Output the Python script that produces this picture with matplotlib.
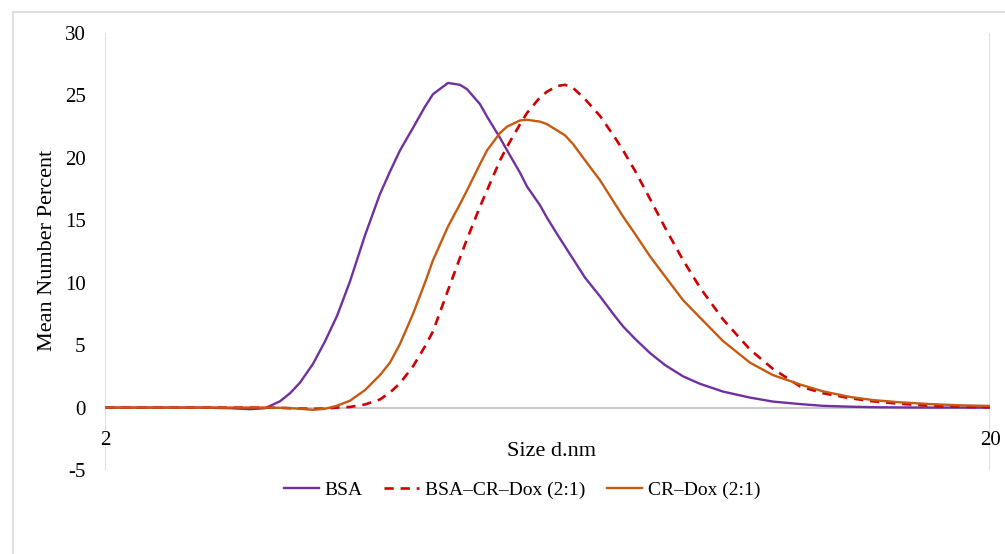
import numpy as np
import matplotlib
matplotlib.use("Agg")
import matplotlib.pyplot as plt
from matplotlib.lines import Line2D

plt.rcParams['font.family'] = ['Liberation Serif', 'DejaVu Serif']
plt.rcParams['axes.unicode_minus'] = False

# size bins (d.nm)
size_nm = [2.000, 2.248, 2.561, 2.769, 2.917, 3.033, 3.153, 3.237, 3.322, 3.436,
           3.545, 3.658, 3.783, 3.934, 4.090, 4.198, 4.309, 4.457, 4.598, 4.695,
           4.882, 5.037, 5.130, 5.306, 5.404, 5.590, 5.693, 5.889, 5.997, 6.203,
           6.317, 6.484, 6.620, 6.760, 6.974, 7.252, 7.541, 7.699, 7.944, 8.260,
           8.589, 9.000, 9.407, 9.986, 10.71, 11.37, 12.20, 12.95, 13.90, 14.75,
           15.83, 17.11, 18.50, 20.00]

bsa = [0, 0, 0, -0.05, -0.13, -0.05, 0.5, 1.15, 2.0, 3.5,
       5.3, 7.35, 10.1, 13.8, 17.1, 18.9, 20.6, 22.4, 24.1, 25.1,
       26.0, 25.85, 25.5, 24.3, 23.3, 21.6, 20.6, 18.8, 17.7, 16.2,
       15.2, 13.9, 12.9, 11.9, 10.4, 8.9, 7.3, 6.5, 5.5, 4.36,
       3.4, 2.5, 1.9, 1.28, 0.8, 0.48, 0.28, 0.14, 0.07, 0.03,
       0.01, 0, 0, 0]

bsa_cr_dox = [0, 0, 0, 0, 0, 0, -0.02, -0.05, -0.08, -0.1,
              -0.08, 0.0, 0.05, 0.25, 0.65, 1.2, 1.95, 3.3, 4.9, 6.1,
              9.4, 12.0, 13.5, 16.1, 17.4, 19.8, 20.9, 22.7, 23.6, 24.85,
              25.3, 25.75, 25.85, 25.6, 24.7, 23.35, 21.6, 20.6, 18.95, 16.7,
              14.4, 11.8, 9.6, 7.06, 4.65, 3.1, 1.7, 1.15, 0.75, 0.5,
              0.3, 0.15, 0.06, 0.02]

cr_dox = [0, 0, 0, 0, 0, 0, -0.02, -0.05, -0.1, -0.18,
          -0.1, 0.15, 0.55, 1.4, 2.6, 3.6, 5.1, 7.5, 10.0, 11.8,
          14.5, 16.3, 17.4, 19.5, 20.6, 22.0, 22.5, 23.0, 23.05, 22.9,
          22.7, 22.2, 21.8, 21.1, 19.8, 18.2, 16.3, 15.3, 13.9, 12.1,
          10.5, 8.6, 7.2, 5.33, 3.6, 2.6, 1.85, 1.3, 0.85, 0.6,
          0.42, 0.28, 0.18, 0.13]

y_ticks = [-5, 0, 5, 10, 15, 20, 25, 30]

fig = plt.figure(figsize=(10.05, 5.54), dpi=100)
ax = fig.add_axes([105/1005, 1-470/554, 885/1005, 437/554])

ax.plot(size_nm, bsa, color='#7030A0', lw=1.7, label='BSA', zorder=3)
ax.plot(size_nm, bsa_cr_dox, color='#D00000', lw=1.9, ls=(0, (3.5, 2.6)),
        label='BSA\u2013CR\u2013Dox (2:1)', zorder=3)
ax.plot(size_nm, cr_dox, color='#C55A11', lw=1.7, label='CR\u2013Dox (2:1)', zorder=3)

ax.set_xscale('log')
ax.set_xlim(2, 20)
ax.set_ylim(-5, 30)
ax.set_yticks(y_ticks)
ax.set_xticks([])
ax.minorticks_off()
ax.tick_params(axis='y', length=0, pad=14, labelsize=15)
for s in ax.spines.values():
    s.set_visible(False)

# axis lines like the excel chart
ax.axhline(0, color='#BFBFBF', lw=1.2, zorder=1)
ax.axvline(2, color='#D9D9D9', lw=1.2, zorder=1)
ax.axvline(20, color='#D9D9D9', lw=1.2, zorder=1)

ax.text(2, -1.85, '2', ha='center', va='top', fontsize=15)
ax.text(20, -1.85, '20', ha='center', va='top', fontsize=15)

fig.text(47/1005, 1-250/554, 'Mean Number Percent', rotation=90,
         ha='center', va='center', fontsize=16)
fig.text(551/1005, 1-452/554, 'Size d.nm', ha='center', va='center', fontsize=16)

fig.legend(loc='center', bbox_to_anchor=(522/1005, 1-490/554), ncol=3,
           frameon=False, fontsize=14, handlelength=1.8, handletextpad=0.3,
           columnspacing=1.1)

# outer chart border (top and left visible)
fig.add_artist(Line2D([13/1005, 1], [1-12/554, 1-12/554], color='#D9D9D9',
                      lw=1.2, transform=fig.transFigure))
fig.add_artist(Line2D([13/1005, 13/1005], [0, 1-12/554], color='#D9D9D9',
                      lw=1.2, transform=fig.transFigure))

fig.savefig('out.png', dpi=100)
